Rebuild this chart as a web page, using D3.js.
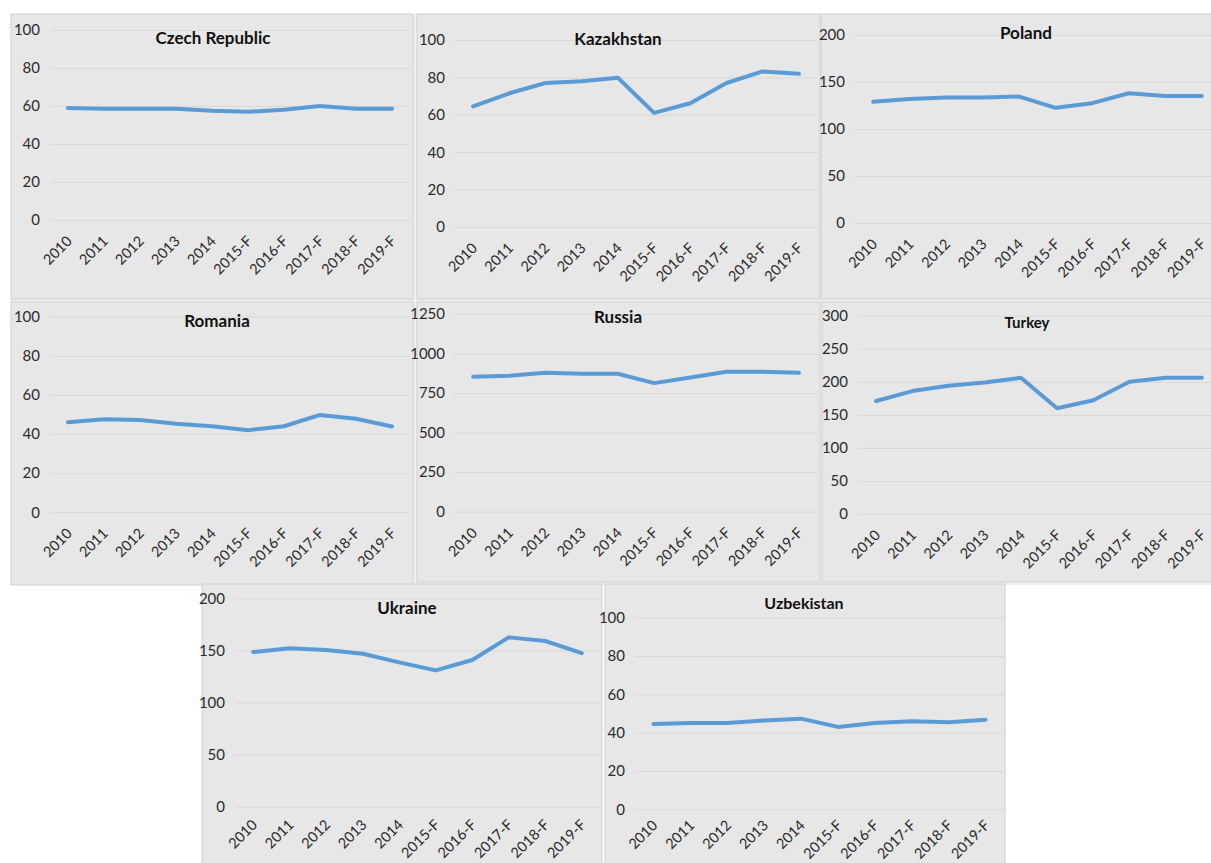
<!DOCTYPE html>
<html>
<head>
<meta charset="utf-8">
<script src="https://cdn.jsdelivr.net/npm/d3@7"></script>
<style>
  html, body { margin: 0; padding: 0; background: #ffffff; }
  svg { display: block; }
  .tick text { font-family: Lato, "Open Sans", sans-serif; }
</style>
</head>
<body>
<svg id="chart" width="1211" height="863"></svg>
<script>
// Category labels shared by every panel
const years = ["2010", "2011", "2012", "2013", "2014", "2015-F", "2016-F", "2017-F", "2018-F", "2019-F"];

// Series values per country
const czechRepublic = [59, 58.5, 58.5, 58.5, 57.5, 57, 58, 60, 58.5, 58.5];
const kazakhstan    = [64.5, 71.5, 77, 78, 79.8, 61, 66.2, 77, 83.2, 82];
const poland        = [129, 132, 133.5, 133.5, 134.5, 122.5, 127.5, 138, 135, 135];
const romania       = [46, 47.6, 47.2, 45.3, 44, 42, 44, 49.8, 47.8, 43.9];
const russia        = [853, 860, 879, 872, 872, 813, 849, 885, 885, 879];
const turkey        = [171, 186, 194, 199, 206, 160, 172, 200, 206, 206];
const ukraine       = [148.4, 152, 150.3, 146.8, 138.5, 130.8, 140.8, 162.5, 159, 147.4];
const uzbekistan    = [44.5, 45, 45, 46.3, 47.3, 43, 45, 45.9, 45.4, 46.8];

// Y-axis tick labels per country
const ticks100  = [0, 20, 40, 60, 80, 100];
const ticks200  = [0, 50, 100, 150, 200];
const ticks300  = [0, 50, 100, 150, 200, 250, 300];
const ticks1250 = [0, 250, 500, 750, 1000, 1250];

// Panel frames, plot areas, title placement and x-label offset
const panels = [
  { title: "Czech Republic", values: czechRepublic, ticks: ticks100,
    box: [11, 14, 402, 285], plot: [50, 410, 220, 30], titlePos: [213, 44], titleSize: 17, labelDy: 22 },
  { title: "Kazakhstan", values: kazakhstan, ticks: ticks100,
    box: [417, 14, 403, 285], plot: [455, 817, 227, 40], titlePos: [618, 45], titleSize: 17, labelDy: 22 },
  { title: "Poland", values: poland, ticks: ticks200,
    box: [821, 14, 410, 285], plot: [855, 1220, 223, 35], titlePos: [1026, 39], titleSize: 17, labelDy: 22 },
  { title: "Romania", values: romania, ticks: ticks100,
    box: [11, 302, 402, 283], plot: [50, 410, 512.3, 316.7], titlePos: [217, 327], titleSize: 17, labelDy: 22 },
  { title: "Russia", values: russia, ticks: ticks1250,
    box: [417, 302, 403, 280], plot: [455, 817, 511.7, 314], titlePos: [618, 323], titleSize: 17, labelDy: 22 },
  { title: "Turkey", values: turkey, ticks: ticks300,
    box: [822, 302, 410, 280], plot: [858, 1220, 514, 315.7], titlePos: [1027, 328], titleSize: 15, labelDy: 22 },
  { title: "Ukraine", values: ukraine, ticks: ticks200,
    box: [202, 584, 400, 290], plot: [235, 600, 806.7, 598.3], titlePos: [407, 614], titleSize: 17, labelDy: 19 },
  { title: "Uzbekistan", values: uzbekistan, ticks: ticks100,
    box: [605, 584, 400, 290], plot: [635, 1004, 809.3, 617.7], titlePos: [804, 609], titleSize: 16, labelDy: 17 }
];

const svg = d3.select("#chart");

// light backdrop behind the upper two rows
svg.append("rect")
  .attr("x", 11).attr("y", 14).attr("width", 1200).attr("height", 571)
  .attr("fill", "#efefef");

panels.forEach(p => {
  const [bx, by, bw, bh] = p.box;
  const [x0, x1, y0, yTop] = p.plot;
  const g = svg.append("g");

  g.append("rect")
    .attr("x", bx).attr("y", by).attr("width", bw).attr("height", bh)
    .attr("fill", "#e7e7e7").attr("stroke", "#d6d6d6").attr("stroke-width", 1.2);

  const x = d3.scaleBand().domain(years).range([x0, x1]);
  const y = d3.scaleLinear().domain([0, d3.max(p.ticks)]).range([y0, yTop]);

  // y axis with gridlines
  const yAxis = g.append("g")
    .attr("transform", `translate(${x0},0)`)
    .call(d3.axisLeft(y).tickValues(p.ticks).tickFormat(d3.format("d"))
      .tickSize(-(x1 - x0)).tickPadding(10));
  yAxis.select(".domain").remove();
  yAxis.selectAll(".tick line").attr("stroke", "#d9d9d9").attr("stroke-width", 1);
  yAxis.selectAll(".tick text").attr("font-size", 15).attr("fill", "#2b2b2b");

  // x axis with rotated labels
  const xAxis = g.append("g")
    .attr("transform", `translate(0,${y0})`)
    .call(d3.axisBottom(x).tickSize(0));
  xAxis.select(".domain").remove();
  xAxis.selectAll(".tick text")
    .attr("font-size", 14.5).attr("fill", "#2b2b2b")
    .attr("x", 0).attr("y", 0).attr("dy", 0)
    .attr("text-anchor", "end")
    .attr("transform", `translate(5,${p.labelDy}) rotate(-45)`);

  // series line
  const line = d3.line()
    .x((d, i) => x(years[i]) + x.bandwidth() / 2)
    .y(d => y(d));
  g.append("path")
    .datum(p.values)
    .attr("d", line)
    .attr("fill", "none")
    .attr("stroke", "#5b9bd5")
    .attr("stroke-width", 4)
    .attr("stroke-linejoin", "round")
    .attr("stroke-linecap", "round");

  g.append("text")
    .attr("x", p.titlePos[0]).attr("y", p.titlePos[1])
    .attr("text-anchor", "middle")
    .attr("font-family", "Lato, 'Open Sans', sans-serif")
    .attr("font-weight", "bold")
    .attr("font-size", p.titleSize)
    .attr("fill", "#111")
    .text(p.title);
});
</script>
</body>
</html>
